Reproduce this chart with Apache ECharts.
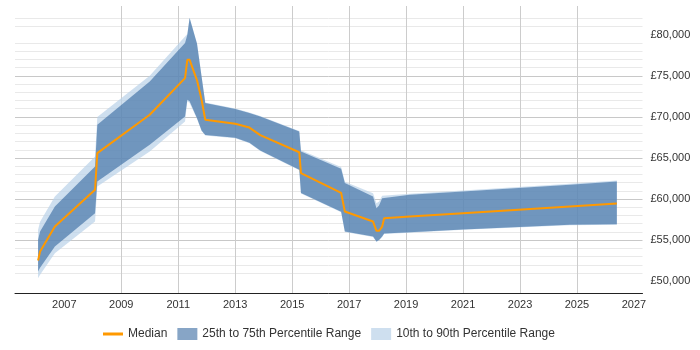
<!DOCTYPE html>
<html>
<head>
<meta charset="utf-8">
<script src="https://cdn.jsdelivr.net/npm/echarts@6/dist/echarts.min.js"></script>
<style>html,body{margin:0;padding:0;background:#fff}#c{width:700px;height:350px}</style>
</head>
<body>
<div id="c"></div>
<script>
// decimal years
const years = [2006.08, 2006.15, 2006.67, 2008.08, 2008.16, 2010.0, 2011.24, 2011.32, 2011.40, 2011.66, 2011.82, 2011.95, 2013.0, 2013.5, 2013.88, 2015.25, 2015.31, 2016.72, 2016.85, 2017.84, 2017.96, 2018.05, 2018.16, 2018.23, 2019.13, 2021.0, 2024.75, 2026.4];
const median = [52510, 53600, 56650, 61120, 65590, 70255, 74725, 76950, 76950, 74450, 72100, 69650, 69160, 68700, 67780, 65700, 63150, 60750, 58480, 57260, 56130, 56130, 56650, 57670, 57870, 58280, 59090, 59450];
const p25 = [51170, 51620, 54210, 58280, 62130, 66600, 70050, 72080, 71900, 69830, 68330, 67800, 67450, 66850, 65900, 63560, 60720, 58450, 56040, 55430, 54820, 55000, 55430, 55800, 55950, 56300, 56860, 56940];
const p75 = [55030, 56040, 59090, 63960, 69040, 74310, 78990, 80000, 82030, 78900, 74930, 71700, 70950, 70460, 70050, 68220, 65785, 63700, 61940, 60300, 58890, 59200, 60110, 60300, 60510, 60910, 61730, 62130];
const p10 = [50365, 50770, 53410, 57260, 61520, 65785, 69440, 71900, 71700, 69750, 68270, 67740, 67390, 66790, 65840, 63500, 60660, 58390, 55980, 55370, 54760, 54940, 55370, 55740, 55890, 56250, 56800, 56880];
const p90 = [56250, 57220, 60300, 65180, 69975, 75000, 79800, 80100, 82100, 78950, 74990, 71760, 71010, 70520, 70110, 68290, 65950, 63900, 62100, 60700, 59500, 59700, 60400, 60450, 60650, 61030, 61850, 62250];
const xTicks = [2007, 2009, 2011, 2013, 2015, 2017, 2019, 2021, 2023, 2025, 2027];
const yMinor = [49000,51000,52000,53000,54000,56000,57000,58000,59000,61000,62000,63000,64000,66000,67000,68000,69000,71000,72000,73000,74000,76000,77000,78000,79000,81000,82000,83000];
const yLabels = [50000, 55000, 60000, 65000, 70000, 75000, 80000];

const names = {med: 'Median', mid: '25th to 75th Percentile Range', wide: '10th to 90th Percentile Range'};
const DARK = 'rgba(36,91,151,0.55)';
const LIGHT = 'rgba(185,210,232,0.7)';
const ORANGE = '#ff9900';
const FONT = '"Liberation Sans", Arial, sans-serif';

// value first, year second (so the stacked dimension is the value)
const pair = (arr) => years.map((y, i) => [arr[i], y]);
const diff = (a, b) => years.map((y, i) => [a[i] - b[i], y]);
const enc = {x: 1, y: 0};

const chart = echarts.init(document.getElementById('c'), null, {renderer: 'canvas'});
chart.setOption({
  animation: false,
  textStyle: {fontFamily: FONT},
  grid: {left: 15, right: 57.5, top: 6, height: 287.5},
  xAxis: {
    type: 'value', min: 2005.27, max: 2027.3,
    axisLine: {show: true, lineStyle: {color: '#222', width: 1}},
    axisTick: {show: false, customValues: xTicks},
    axisLabel: {customValues: xTicks, color: '#333', fontSize: 11, margin: 6, fontFamily: FONT, formatter: v => String(Math.round(v))},
    splitLine: {show: true, showMinLine: false, showMaxLine: false, lineStyle: {color: '#cccccc', width: 1}}
  },
  yAxis: [{
    type: 'value', position: 'right', min: 48500, max: 83500,
    axisLine: {show: false},
    axisTick: {show: false, customValues: yLabels},
    axisLabel: {customValues: yLabels, color: '#333', fontSize: 11, margin: 8, fontFamily: FONT,
      formatter: v => '£' + v.toLocaleString('en-GB')},
    splitLine: {show: true, showMinLine: false, showMaxLine: false, lineStyle: {color: '#c8c8c8', width: 1}}
  }, {
    type: 'value', position: 'right', min: 48500, max: 83500,
    axisLine: {show: false},
    axisTick: {show: false, customValues: yMinor},
    axisLabel: {show: false, customValues: yMinor},
    splitLine: {show: true, showMinLine: false, showMaxLine: false, lineStyle: {color: '#e9e9e9', width: 1}}
  }],
  legend: {
    left: 98, top: 323, itemWidth: 20, itemHeight: 12, itemGap: 10,
    textStyle: {color: '#333', fontSize: 12, fontFamily: FONT},
    data: [
      {name: names.med, icon: 'path://M0,0 H20 V3 H0 Z', itemStyle: {color: ORANGE, borderWidth: 0, opacity: 1}},
      {name: names.mid, icon: 'rect', itemStyle: {color: DARK, borderWidth: 0, opacity: 1}},
      {name: names.wide, icon: 'rect', itemStyle: {color: LIGHT, borderWidth: 0, opacity: 1}}
    ]
  },
  series: [
    {name: 'p10', type: 'line', stack: 'wide', encode: enc, data: pair(p10), symbol: 'none', lineStyle: {width: 0, opacity: 0}, silent: true},
    {name: names.wide, type: 'line', stack: 'wide', encode: enc, data: diff(p90, p10), symbol: 'none', color: LIGHT,
      lineStyle: {width: 0, opacity: 0}, areaStyle: {color: LIGHT, opacity: 1}},
    {name: 'p25', type: 'line', stack: 'mid', encode: enc, data: pair(p25), symbol: 'none', lineStyle: {width: 0, opacity: 0}, silent: true},
    {name: names.mid, type: 'line', stack: 'mid', encode: enc, data: diff(p75, p25), symbol: 'none', color: DARK,
      lineStyle: {width: 0, opacity: 0}, areaStyle: {color: DARK, opacity: 1}},
    {name: names.med, type: 'line', encode: enc, data: pair(median), symbol: 'none', color: ORANGE,
      lineStyle: {width: 2, color: ORANGE}, z: 5}
  ]
});
</script>
</body>
</html>
